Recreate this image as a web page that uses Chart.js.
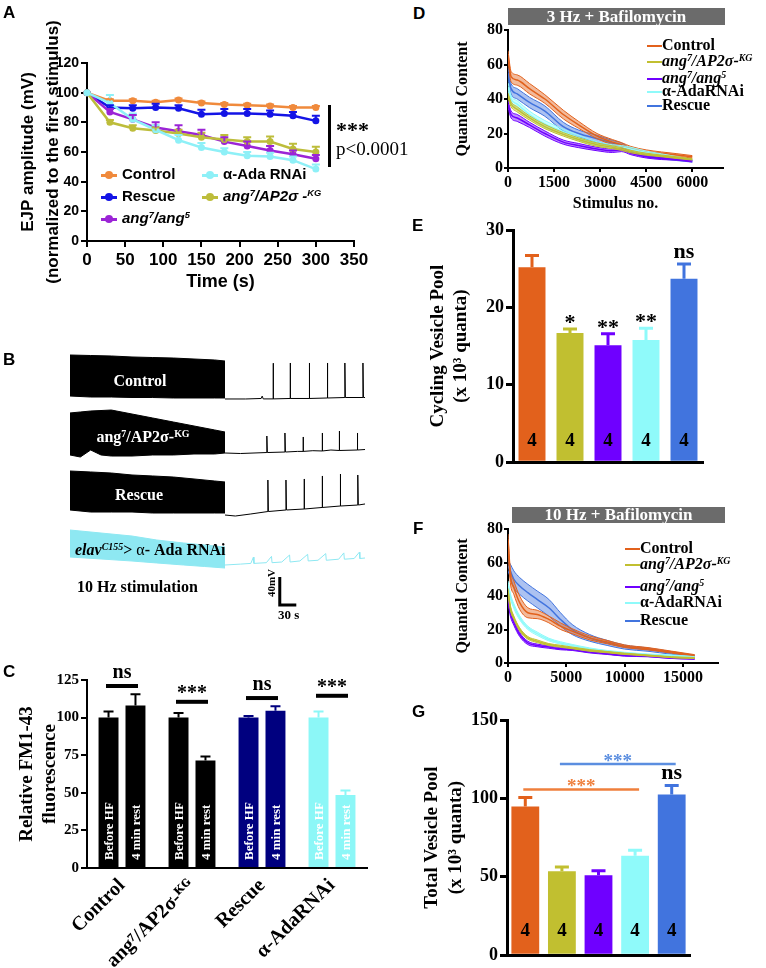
<!DOCTYPE html>
<html>
<head>
<meta charset="utf-8">
<title>Vesicle pool recordings</title>
<script src="https://cdn.jsdelivr.net/npm/chart.js@4.4.1/dist/chart.umd.min.js"></script>
<style>
  body { margin: 0; width: 766px; height: 968px; position: relative; overflow: hidden; background: #fff; }
  canvas { position: absolute; }
  .t { position: absolute; white-space: nowrap; font-family: "Liberation Serif", "Times New Roman", serif; font-weight: bold; color: #000; }
  .sans { font-family: "Liberation Sans", Arial, sans-serif; }
  .panel { font-family: "Liberation Sans", Arial, sans-serif; font-size: 17px; line-height: 17px; }
  .white { color: #fff; text-align: center; }
  .strip { background: #6b6b6b; color: #fff; text-align: center; font-size: 17px; }
  sup { font-size: 0.62em; vertical-align: 0; position: relative; top: -0.5em; line-height: 0; }
  .mk { display: inline-block; position: relative; width: 16px; height: 3px; margin-right: 5px; vertical-align: middle; background: var(--c); }
  .mk::after { content: ""; position: absolute; left: 4px; top: -2.5px; width: 8px; height: 8px; border-radius: 50%; background: var(--c); }
  .ln { display: inline-block; width: 15px; height: 2px; vertical-align: middle; background: var(--c); }
</style>
</head>
<body>
<canvas id="cA" width="375" height="293" style="left:0;top:0"></canvas>
<canvas id="cB" width="310" height="280" style="left:70px;top:345px"></canvas>
<canvas id="cC" width="375" height="308" style="left:0;top:660px"></canvas>
<canvas id="cD" width="303" height="200" style="left:440px;top:15px"></canvas>
<canvas id="cE" width="295" height="265" style="left:420px;top:210px"></canvas>
<canvas id="cF" width="303" height="179" style="left:440px;top:514px"></canvas>
<canvas id="cG" width="295" height="268" style="left:415px;top:700px"></canvas>

<!-- panel letters -->
<div class="t panel" style="left:3px;top:4px">A</div>
<div class="t panel" style="left:3px;top:351px">B</div>
<div class="t panel" style="left:3px;top:663px">C</div>
<div class="t panel" style="left:413px;top:5px">D</div>
<div class="t panel" style="left:412px;top:217px">E</div>
<div class="t panel" style="left:413px;top:520px">F</div>
<div class="t panel" style="left:412px;top:703px">G</div>

<!-- A legend and statistics -->
<div class="t sans" style="left:101px;top:166px;font-size:15px;line-height:16px"><span class="mk" style="--c:#f08a3c"></span>Control</div>
<div class="t sans" style="left:101px;top:188px;font-size:15px;line-height:16px"><span class="mk" style="--c:#1414e6"></span>Rescue</div>
<div class="t sans" style="left:101px;top:210px;font-size:15px;line-height:16px"><span class="mk" style="--c:#9b24d6"></span><i>ang<sup>7</sup>/ang<sup>5</sup></i></div>
<div class="t sans" style="left:202px;top:166px;font-size:15px;line-height:16px"><span class="mk" style="--c:#8ef0f7"></span>α-Ada RNAi</div>
<div class="t sans" style="left:202px;top:188px;font-size:15px;line-height:16px"><span class="mk" style="--c:#bdbd3b"></span><i>ang<sup>7</sup>/AP2σ -<sup>KG</sup></i></div>
<div style="position:absolute;left:328px;top:105px;width:3px;height:62px;background:#000"></div>
<div class="t" style="left:336px;top:119px;font-size:22px;line-height:22px">***</div>
<div class="t" style="left:336px;top:139px;font-size:19px;line-height:19px;font-weight:normal">p&lt;0.0001</div>

<!-- B labels -->
<div class="t white" style="left:90px;width:100px;top:371px;font-size:16px;line-height:20px">Control</div>
<div class="t white" style="left:93px;width:100px;top:427px;font-size:16px;line-height:20px">ang<sup>7</sup>/AP2σ-<sup>KG</sup></div>
<div class="t white" style="left:89px;width:100px;top:485px;font-size:16px;line-height:20px">Rescue</div>
<div class="t" style="left:75px;top:540px;font-size:16px;line-height:20px"><i>elav<sup>C155</sup></i>&gt; <span style="font-weight:normal">α</span>- Ada RNAi</div>
<div class="t" style="left:77px;top:577px;font-size:16px;line-height:20px">10 Hz stimulation</div>
<div class="t" style="left:256px;top:577px;width:30px;text-align:center;font-size:11px;line-height:12px;transform:rotate(-90deg)">40mV</div>
<div class="t" style="left:278px;top:608px;font-size:13px;line-height:14px">30 s</div>

<!-- D / F strips and legends -->
<div class="t strip" style="left:508px;top:8px;width:217px;height:17px;line-height:17px">3 Hz + Bafilomycin</div>
<div class="t" style="left:647px;top:37px;font-size:16px;line-height:16px"><span class="ln" style="--c:#e2611c"></span>Control</div>
<div class="t" style="left:647px;top:53px;font-size:16px;line-height:16px"><span class="ln" style="--c:#c1bf30"></span><i>ang<sup>7</sup>/AP2σ-<sup>KG</sup></i></div>
<div class="t" style="left:647px;top:70px;font-size:16px;line-height:16px"><span class="ln" style="--c:#6f00ff"></span><i>ang<sup>7</sup>/ang<sup>5</sup></i></div>
<div class="t" style="left:647px;top:83px;font-size:16px;line-height:16px"><span class="ln" style="--c:#8ffafa"></span>α-AdaRNAi</div>
<div class="t" style="left:647px;top:97px;font-size:16px;line-height:16px"><span class="ln" style="--c:#4174de"></span>Rescue</div>

<div class="t strip" style="left:512px;top:507px;width:213px;height:16px;line-height:16px">10 Hz + Bafilomycin</div>
<div class="t" style="left:625px;top:540px;font-size:16px;line-height:16px"><span class="ln" style="--c:#e2611c"></span>Control</div>
<div class="t" style="left:625px;top:556px;font-size:16px;line-height:16px"><span class="ln" style="--c:#c1bf30"></span><i>ang<sup>7</sup>/AP2σ-<sup>KG</sup></i></div>
<div class="t" style="left:625px;top:578px;font-size:16px;line-height:16px"><span class="ln" style="--c:#6f00ff"></span><i>ang<sup>7</sup>/ang<sup>5</sup></i></div>
<div class="t" style="left:625px;top:594px;font-size:16px;line-height:16px"><span class="ln" style="--c:#8ffafa"></span>α-AdaRNAi</div>
<div class="t" style="left:625px;top:612px;font-size:16px;line-height:16px"><span class="ln" style="--c:#4174de"></span>Rescue</div>

<script>
const SERIF = '"Liberation Serif", "Times New Roman", serif';
const SANS = '"Liberation Sans", Arial, sans-serif';

// A: EJP amplitude during 10 Hz stimulation (% of first response)
const timeA = [0, 30, 60, 90, 120, 150, 180, 210, 240, 270, 300];
const controlA = [100, 94.5, 94.5, 93.5, 95, 93, 92, 91.5, 91, 90, 90];
const controlErrA = [0, 1, 1, 1, 1, 1, 1, 1, 1, 1, 1];
const rescueA = [100, 90, 89.5, 90, 89.5, 85.5, 86, 86, 85.5, 84.5, 81];
const rescueErrA = [0, 1.5, 2, 2.5, 2, 3, 3, 3, 2.5, 2.5, 3.5];
const angA = [100, 87, 82, 76.5, 74, 71.5, 67, 64, 61, 58.5, 55.5];
const angErrA = [0, 2, 3, 3.5, 4, 3.5, 3, 3, 3, 2.5, 2.5];
const adaA = [100, 93, 82, 75, 68, 63, 60, 57.5, 57, 54.5, 48.5];
const adaErrA = [0, 5.5, 4, 3, 3.5, 3, 2.5, 2.5, 2.5, 2.5, 3];
const ap2A = [100, 80, 76, 74.5, 72.5, 70, 68.5, 67, 67, 62, 60];
const ap2ErrA = [0, 1.5, 2, 2, 2.5, 3, 3, 3, 3.5, 3.5, 3.5];
const ticksAx = [0, 50, 100, 150, 200, 250, 300, 350];
const ticksAy = [0, 20, 40, 60, 80, 100, 120];

// B: sample recordings (s, mV on one stacked axis); block = 10 Hz train envelope
const ctlBlockX = [0, 40, 80, 120, 160, 200, 240, 280, 300];
const ctlBlockTop = [385.7, 385.0, 384.3, 382.9, 382.1, 381.4, 380.0, 378.6, 377.1];
const ctlBlockBot = [327.1, 325.7, 325.7, 325.0, 325.0, 324.3, 324.3, 324.3, 324.3];
const ctlRest = [[300, 322.9], [340, 322.9], [370, 323.6], [372, 327], [374, 323], [393, 323], [393, 374], [394, 323], [426, 323.6], [426, 374.3], [427, 323.6], [463, 323.6], [463, 374.3], [464, 323.6], [498, 324.3], [498, 374.3], [499, 324.3], [532, 325], [532, 374.3], [533, 325], [567, 325], [567, 374.3], [568, 325], [571, 325]];
const angBlockX = [0, 20, 40, 60, 80, 120, 160, 200, 240, 280, 300];
const angBlockTop = [302.9, 304.3, 305.7, 306.4, 307.1, 301.4, 295.7, 290.0, 284.3, 278.6, 275.7];
const angBlockBot = [242.9, 240.0, 250.0, 242.9, 241.4, 241.4, 242.9, 242.9, 244.3, 244.3, 245.7];
const angRest = [[300, 245.7], [330, 245], [381, 246.4], [381, 270], [382, 246.4], [416, 247.1], [416, 274.3], [417, 247.1], [440, 248], [451, 248], [451, 268.6], [452, 248], [470, 249], [488, 248.6], [488, 274.3], [489, 248.6], [505, 250], [521, 249.3], [521, 277.1], [522, 249.3], [556, 250], [556, 274.3], [557, 250], [571, 250.7]];
const resBlockX = [0, 40, 80, 120, 160, 200, 240, 280, 300];
const resBlockTop = [220.0, 218.6, 217.1, 214.3, 212.9, 211.4, 208.6, 205.7, 204.3];
const resBlockBot = [164.3, 161.4, 161.4, 161.4, 160.0, 160.0, 160.0, 160.0, 160.0];
const resRest = [[300, 157.1], [320, 155.7], [350, 158.6], [383, 162.1], [383, 207.1], [384, 162.1], [418, 164.3], [418, 207.1], [419, 164.3], [453, 165.7], [453, 208.6], [454, 165.7], [488, 167.9], [488, 212.9], [489, 167.9], [523, 170], [523, 215.7], [524, 170], [557, 171.4], [557, 214.3], [558, 171.4], [571, 172.9]];
const adaBlockX = [0, 60, 120, 168, 220, 260, 300];
const adaBlockTop = [135.7, 131.4, 127.1, 121.4, 117.1, 114.3, 111.4];
const adaBlockBot = [97.1, 94.3, 91.4, 88.6, 85.7, 83.6, 81.4];
const adaRest = [[300, 85.7], [330, 87], [350, 88], [355, 97], [356, 88], [380, 89], [390, 98], [391, 89], [410, 90], [425, 100], [426, 90], [445, 91.5], [460, 101], [461, 91.5], [480, 92.5], [495, 102], [496, 92.5], [520, 94], [530, 103], [531, 94], [550, 95], [560, 104], [561, 95], [571, 95.7]];
const scaleBar = [[406, 68.6], [406, 28.6], [438, 28.6]];

// C: FM1-43 fluorescence before HF and after 4 min rest
const cGroups = ['Control', 'ang⁷/AP2σ-ᴷᴳ', 'Rescue', 'α-AdaRNAi'];
const cBefore = [100, 100, 100, 100];
const cBeforeErr = [4, 3, 1, 4];
const cRest = [108, 71.5, 104.5, 48.5];
const cRestErr = [7.5, 2.7, 3, 3];
const cBarText = ['Before HF', '4 min rest'];
const cSig = ['ns', '***', 'ns', '***'];
const cSigY = [121, 110.5, 113, 114.5];
const cColors = ['#000000', '#000000', '#00007f', '#8cf7f7'];

// D / F: quantal content during bafilomycin stimulation
const xD = [0, 100, 300, 700, 1200, 1800, 2300, 2900, 3400, 3700, 4000, 4500, 5000, 5500, 6000];
const ctrlD = [65, 53, 51, 46, 40, 31, 25, 18.5, 15, 13.5, 11.5, 9.5, 8.5, 7.5, 6.5];
const ctrlSemD = [3, 3, 3, 3, 2.5, 2.5, 2, 1.5, 1.5, 1.2, 1, 1, 0.8, 0.8, 0.7];
const ap2D = [42, 37, 34, 29, 24, 19.5, 16.5, 13.5, 12, 11, 9.5, 8, 7, 6, 5];
const ap2SemD = [1.5, 1.5, 1.5, 1.2, 1.2, 1, 1, 1, 0.8, 0.8, 0.7, 0.6, 0.5, 0.5, 0.4];
const angD = [37, 31, 29, 25, 20, 15, 13, 11, 10, 10.5, 8.5, 6.5, 5.5, 5, 4];
const angSemD = [2, 2, 2, 1.5, 1.5, 1.2, 1.2, 1, 1, 1, 0.8, 0.7, 0.6, 0.5, 0.5];
const adaD = [47, 40, 37, 31, 25.5, 21, 17.5, 14, 12.5, 12, 11, 9, 7.5, 6, 4.5];
const adaSemD = [2.5, 2, 2, 2, 2, 1.5, 1.5, 1.2, 1, 1, 1, 0.8, 0.7, 0.6, 0.5];
const resD = [55, 46, 43, 38, 33, 24, 20, 17, 14.5, 13, 10, 7.5, 6, 5, 4];
const resSemD = [3, 3, 3, 3, 3, 2.5, 2, 2, 1.5, 1.5, 1.2, 1, 0.8, 0.7, 0.6];
const ticksDx = [0, 1500, 3000, 4500, 6000];
const ticksQy = [0, 20, 40, 60, 80];

const xF = [0, 200, 500, 1000, 1700, 2500, 3500, 4500, 5500, 7000, 8500, 10000, 12000, 14000, 16000];
const ctrlF = [73, 52, 45, 36, 30, 29, 26, 22, 19, 15, 12.5, 10, 8.5, 6.5, 4.5];
const ctrlSemF = [4, 4, 4, 4, 3, 2.5, 2, 2, 1.5, 1.2, 1, 0.8, 0.7, 0.6, 0.5];
const ap2F = [43, 33, 27, 20, 15, 13, 11, 10, 9, 7.5, 6.5, 5.5, 4.5, 3.5, 3];
const ap2SemF = [1.5, 1.5, 1, 1, 0.8, 0.8, 0.6, 0.6, 0.5, 0.5, 0.4, 0.4, 0.3, 0.3, 0.3];
const angF = [38, 30, 24, 17, 12, 10.5, 9.5, 8.5, 8, 6.5, 5.5, 4.5, 4, 3, 2.5];
const angSemF = [2, 2, 1.5, 1.2, 1, 0.8, 0.7, 0.6, 0.5, 0.5, 0.4, 0.4, 0.3, 0.3, 0.3];
const adaF = [47, 40, 34, 27, 21, 17.5, 14, 12, 10.5, 8.5, 7, 6, 5, 4.5, 3.5];
const adaSemF = [2, 1.5, 1.5, 1.2, 1, 1, 0.8, 0.7, 0.6, 0.5, 0.5, 0.4, 0.4, 0.3, 0.3];
const resF = [58, 55, 50, 46, 42, 38, 33, 26, 20, 15, 12, 9.5, 8, 6, 4];
const resSemF = [3, 4, 5, 5, 5, 5, 5, 4, 3, 2, 1.5, 1.2, 1, 0.8, 0.6];
const ticksFx = [0, 5000, 10000, 15000];

// E / G: vesicle pool sizes (x10^3 quanta), order Control, ang7/AP2, ang7/ang5, Ada RNAi, Rescue
const poolCats = ['Control', 'ang7/AP2σ-KG', 'ang7/ang5', 'α-AdaRNAi', 'Rescue'];
const cyclingPool = [25.2, 16.7, 15.1, 15.8, 23.7];
const cyclingErr = [1.5, 0.5, 1.5, 1.5, 1.9];
const cyclingSig = ['', '*', '**', '**', 'ns'];
const totalPool = [94.8, 53.5, 51, 63.5, 102.5];
const totalErr = [5.8, 2.8, 2.8, 3.4, 5.8];
const totalSig = ['', '', '', '', 'ns'];
const nLarvae = [4, 4, 4, 4, 4];
const totalBrFrom = [0, 1];
const totalBrTo = [3, 4];
const totalBrY = [105.6, 121.9];
const ticksEy = [0, 10, 20, 30];
const ticksGy = [0, 50, 100, 150];

const colA = { control: '#f08a3c', rescue: '#1414e6', ang: '#9b24d6', ada: '#8ef0f7', ap2: '#bdbd3b' };
const poolColors = ['#e2611c', '#c1bf30', '#6f00ff', '#8ffafa', '#4174de'];
const brColors = ['#ef7f3c', '#5b8ee0'];

Chart.defaults.animation = false;
Chart.defaults.responsive = false;
Chart.defaults.devicePixelRatio = 1;
Chart.defaults.events = [];
Chart.defaults.color = '#000';
Chart.defaults.plugins.legend.display = false;
Chart.defaults.plugins.tooltip.enabled = false;

function setTicks(list) { return s => { s.ticks = list.map(v => ({ value: v })); }; }
function fixWidth(w) { return s => { s.width = w; }; }
function fixHeight(h) { return s => { s.height = h; }; }
function plain(v) { return String(v); }
function axisLines(width, tick) {
  return {
    grid: { drawOnChartArea: false, drawTicks: tick > 0, tickLength: tick, color: '#000', lineWidth: width },
    border: { display: true, color: '#000', width: width }
  };
}
function font(family, size, extra) { return Object.assign({ family: family, weight: 'bold', size: size }, extra || {}); }

// text centred on its visible glyphs; k depends on glyph shape
function mark(ctx, text, x, yc, size, color) {
  const k = text.indexOf('*') >= 0 ? 0.5 : (/[0-9]/.test(text) ? 0.33 : 0.23);
  ctx.save();
  ctx.font = 'bold ' + size + 'px ' + SERIF;
  ctx.fillStyle = color;
  ctx.textAlign = 'center';
  ctx.textBaseline = 'alphabetic';
  ctx.fillText(text, x, yc + k * size);
  ctx.restore();
}

function errorBars(sets, cap, width) {
  return {
    id: 'errorBars',
    afterDatasetsDraw(chart) {
      const ctx = chart.ctx, ys = chart.scales.y;
      sets.forEach(s => {
        chart.getDatasetMeta(s.ds).data.forEach((el, i) => {
          if (!s.err[i]) return;
          const base = ys.getPixelForValue(s.vals[i]);
          const top = ys.getPixelForValue(s.vals[i] + s.err[i]);
          ctx.save();
          ctx.strokeStyle = Array.isArray(s.color) ? s.color[i] : s.color;
          ctx.lineWidth = width;
          ctx.beginPath();
          ctx.moveTo(el.x, base); ctx.lineTo(el.x, top);
          ctx.moveTo(el.x - cap, top); ctx.lineTo(el.x + cap, top);
          ctx.stroke();
          ctx.restore();
        });
      });
    }
  };
}

// ---------- A ----------
const seriesA = [
  { vals: adaA, err: adaErrA, color: colA.ada },
  { vals: ap2A, err: ap2ErrA, color: colA.ap2 },
  { vals: angA, err: angErrA, color: colA.ang },
  { vals: rescueA, err: rescueErrA, color: colA.rescue },
  { vals: controlA, err: controlErrA, color: colA.control }
];
new Chart(document.getElementById('cA'), {
  type: 'line',
  data: {
    datasets: seriesA.map(s => ({
      data: timeA.map((t, i) => ({ x: t, y: s.vals[i] })),
      borderColor: s.color, backgroundColor: s.color, borderWidth: 2.5,
      pointRadius: 3.5, pointBorderWidth: 0, clip: 8
    }))
  },
  options: {
    layout: { padding: { top: 63, right: 21, bottom: 0, left: 0 } },
    scales: {
      x: Object.assign({
        type: 'linear', min: 0, max: 350, afterBuildTicks: setTicks(ticksAx), afterFit: fixHeight(52),
        ticks: { font: font(SANS, 17), padding: 3, maxRotation: 0 },
        title: { display: true, text: 'Time (s)', font: font(SANS, 18), padding: 0 }
      }, axisLines(2, 6)),
      y: Object.assign({
        min: 0, max: 120, afterBuildTicks: setTicks(ticksAy), afterFit: fixWidth(87),
        ticks: { font: font(SANS, 14), padding: 2 },
        title: { display: true, text: ['EJP amplitude (mV)', '(normalized to the first stimulus)'], font: font(SANS, 17, { lineHeight: 1.47 }), padding: { top: 15.5, bottom: 0 } }
      }, axisLines(2, 6))
    }
  },
  plugins: [errorBars(seriesA.map((s, k) => ({ ds: k, vals: s.vals, err: s.err, color: s.color })), 4, 2)]
});

// ---------- B ----------
const traceSets = [];
function addTrace(blockX, top, bot, rest, color) {
  traceSets.push({ data: blockX.map((x, i) => ({ x: x, y: top[i] })), borderColor: color, backgroundColor: color, borderWidth: 1, pointRadius: 0, fill: '+1', clip: false });
  traceSets.push({ data: blockX.map((x, i) => ({ x: x, y: bot[i] })), borderColor: color, borderWidth: 1, pointRadius: 0, fill: false, clip: false });
  traceSets.push({ data: rest.map(p => ({ x: p[0], y: p[1] })), borderColor: color, borderWidth: 1, pointRadius: 0, fill: false, clip: false });
}
addTrace(ctlBlockX, ctlBlockTop, ctlBlockBot, ctlRest, '#000');
addTrace(angBlockX, angBlockTop, angBlockBot, angRest, '#000');
addTrace(resBlockX, resBlockTop, resBlockBot, resRest, '#000');
addTrace(adaBlockX, adaBlockTop, adaBlockBot, adaRest, '#8ee8f2');
traceSets.push({ data: scaleBar.map(p => ({ x: p[0], y: p[1] })), borderColor: '#000', borderWidth: 3, pointRadius: 0, fill: false, clip: false });

new Chart(document.getElementById('cB'), {
  type: 'line',
  data: { datasets: traceSets },
  options: {
    layout: { padding: 0 },
    elements: { line: { tension: 0 } },
    scales: {
      x: { type: 'linear', display: false, min: 0, max: 600 },
      y: { display: false, min: 0, max: 400 }
    }
  }
});

// ---------- C ----------
const cMarks = {
  id: 'cMarks',
  afterDatasetsDraw(chart) {
    const ctx = chart.ctx, xs = chart.scales.x, ys = chart.scales.y;
    const base = ys.getPixelForValue(0);
    [0, 1].forEach(di => {
      chart.getDatasetMeta(di).data.forEach(el => {
        ctx.save();
        ctx.translate(el.x, base - 8);
        ctx.rotate(-Math.PI / 2);
        ctx.font = 'bold 13px ' + SERIF;
        ctx.fillStyle = '#fff';
        ctx.textAlign = 'left';
        ctx.textBaseline = 'middle';
        ctx.fillText(cBarText[di], 0, 1);
        ctx.restore();
      });
    });
    cSig.forEach((t, i) => {
      const x = xs.getPixelForValue(i), y = ys.getPixelForValue(cSigY[i]);
      ctx.save();
      ctx.strokeStyle = '#000';
      ctx.lineWidth = 4;
      ctx.beginPath(); ctx.moveTo(x - 16, y); ctx.lineTo(x + 16, y); ctx.stroke();
      ctx.restore();
      mark(ctx, t, x, y - 13, 20, '#000');
    });
  }
};
new Chart(document.getElementById('cC'), {
  type: 'bar',
  data: {
    labels: cGroups,
    datasets: [
      { data: cBefore, backgroundColor: cColors, barPercentage: 0.74, categoryPercentage: 0.77 },
      { data: cRest, backgroundColor: cColors, barPercentage: 0.74, categoryPercentage: 0.77 }
    ]
  },
  options: {
    layout: { padding: { top: 20, right: 8, bottom: 0, left: 0 } },
    scales: {
      x: {
        afterFit: fixHeight(100),
        grid: { drawOnChartArea: false, drawTicks: false },
        border: { display: true, color: '#000', width: 2 },
        ticks: { font: font(SERIF, 20), padding: 6, maxRotation: 45, minRotation: 45, autoSkip: false }
      },
      y: Object.assign({
        min: 0, max: 125, afterBuildTicks: setTicks([0, 25, 50, 75, 100, 125]), afterFit: fixWidth(87),
        ticks: { font: font(SERIF, 15), padding: 2 },
        title: { display: true, text: ['Relative FM1-43', 'fluorescence'], font: font(SERIF, 19, { lineHeight: 1.2 }), padding: { top: 15.6, bottom: 0 } }
      }, axisLines(2, 6))
    }
  },
  plugins: [errorBars([
    { ds: 0, vals: cBefore, err: cBeforeErr, color: cColors },
    { ds: 1, vals: cRest, err: cRestErr, color: cColors }
  ], 5, 2), cMarks]
});

// ---------- D / F ----------
function bandSets(xs, groups) {
  const out = [];
  groups.forEach(g => {
    out.push({ data: xs.map((x, i) => ({ x: x, y: g.mean[i] - g.sem[i] })), borderColor: g.color, borderWidth: 1, pointRadius: 0, fill: false, cubicInterpolationMode: 'monotone', tension: 0.3 });
    out.push({ data: xs.map((x, i) => ({ x: x, y: g.mean[i] + g.sem[i] })), borderColor: g.color, borderWidth: 1, pointRadius: 0, fill: '-1', backgroundColor: g.color + '70', cubicInterpolationMode: 'monotone', tension: 0.3 });
    out.push({ data: xs.map((x, i) => ({ x: x, y: g.mean[i] })), borderColor: g.color, borderWidth: 1.5, pointRadius: 0, fill: false, cubicInterpolationMode: 'monotone', tension: 0.3 });
  });
  return out;
}
function quantalOptions(xmax, xticks, xh, rightPad, withTitle) {
  return {
    layout: { padding: { top: 15, right: rightPad, bottom: 0, left: 0 } },
    scales: {
      x: Object.assign({
        type: 'linear', min: 0, max: xmax, afterBuildTicks: setTicks(xticks), afterFit: fixHeight(xh),
        ticks: { font: font(SERIF, 16), padding: 1, maxRotation: 0, callback: plain },
        title: { display: withTitle, text: 'Stimulus no.', font: font(SERIF, 16), padding: { top: 0, bottom: 2 } }
      }, axisLines(2, 4)),
      y: Object.assign({
        min: 0, max: 80, afterBuildTicks: setTicks(ticksQy), afterFit: fixWidth(68),
        ticks: { font: font(SERIF, 16), padding: 1, callback: plain },
        title: { display: true, text: 'Quantal Content', font: font(SERIF, 16), padding: { top: 13.4, bottom: 0 } }
      }, axisLines(2, 4))
    }
  };
}
new Chart(document.getElementById('cD'), {
  type: 'line',
  data: { datasets: bandSets(xD, [
    { mean: ap2D, sem: ap2SemD, color: poolColors[1] },
    { mean: angD, sem: angSemD, color: poolColors[2] },
    { mean: adaD, sem: adaSemD, color: poolColors[3] },
    { mean: ctrlD, sem: ctrlSemD, color: poolColors[0] },
    { mean: resD, sem: resSemD, color: poolColors[4] }
  ]) },
  options: quantalOptions(7000, ticksDx, 47, 20, true)
});
new Chart(document.getElementById('cF'), {
  type: 'line',
  data: { datasets: bandSets(xF, [
    { mean: ap2F, sem: ap2SemF, color: poolColors[1] },
    { mean: angF, sem: angSemF, color: poolColors[2] },
    { mean: adaF, sem: adaSemF, color: poolColors[3] },
    { mean: ctrlF, sem: ctrlSemF, color: poolColors[0] },
    { mean: resF, sem: resSemF, color: poolColors[4] }
  ]) },
  options: quantalOptions(18000, ticksFx, 30, 25, false)
});

// ---------- E / G ----------
function poolMarks(vals, errs, sig, nOffset, brackets) {
  return {
    id: 'poolMarks',
    afterDatasetsDraw(chart) {
      const ctx = chart.ctx, xs = chart.scales.x, ys = chart.scales.y;
      const base = ys.getPixelForValue(0);
      chart.getDatasetMeta(0).data.forEach((el, i) => {
        mark(ctx, String(nLarvae[i]), el.x, base - nOffset, 19, '#000');
        if (sig[i]) mark(ctx, sig[i], el.x, ys.getPixelForValue(vals[i] + errs[i]) - 11, 22, '#000');
      });
      if (!brackets) return;
      brackets.from.forEach((f, k) => {
        const x0 = xs.getPixelForValue(f) - 2, x1 = xs.getPixelForValue(brackets.to[k]) + 4;
        const y = ys.getPixelForValue(brackets.y[k]);
        ctx.save();
        ctx.strokeStyle = brColors[k];
        ctx.lineWidth = 2.5;
        ctx.beginPath(); ctx.moveTo(x0, y); ctx.lineTo(x1, y); ctx.stroke();
        ctx.restore();
        mark(ctx, '***', (x0 + x1) / 2, y - 7, 19, brColors[k]);
      });
    }
  };
}
function poolChart(id, vals, errs, sig, ymax, yticks, yw, titlePad, lh, barPct, nOffset, brackets, rightPad) {
  new Chart(document.getElementById(id), {
    type: 'bar',
    data: { labels: poolCats, datasets: [{ data: vals, backgroundColor: poolColors, barPercentage: barPct, categoryPercentage: 1 }] },
    options: {
      layout: { padding: { top: 20, right: rightPad, bottom: 0, left: 0 } },
      scales: {
        x: {
          afterFit: fixHeight(8),
          grid: { drawOnChartArea: false, drawTicks: false },
          border: { display: true, color: '#000', width: 3 },
          ticks: { display: false }
        },
        y: Object.assign({
          min: 0, max: ymax, afterBuildTicks: setTicks(yticks), afterFit: fixWidth(yw),
          ticks: { font: font(SERIF, 18), padding: 2 },
          title: { display: true, text: [id === 'cE' ? 'Cycling Vesicle Pool' : 'Total Vesicle Pool', '(x 10³ quanta)'], font: font(SERIF, 19, { lineHeight: lh }), padding: { top: titlePad, bottom: 0 } }
        }, axisLines(3, 7))
      }
    },
    plugins: [errorBars([{ ds: 0, vals: vals, err: errs, color: poolColors }], 7, 3), poolMarks(vals, errs, sig, nOffset, brackets)]
  });
}
poolChart('cE', cyclingPool, cyclingErr, cyclingSig, 30, ticksEy, 93, 6.6, 1.2, 0.71, 22, null, 12);
poolChart('cG', totalPool, totalErr, totalSig, 150, ticksGy, 92, 5, 1.26, 0.76, 25, { from: totalBrFrom, to: totalBrTo, y: totalBrY }, 20);
</script>
</body>
</html>
